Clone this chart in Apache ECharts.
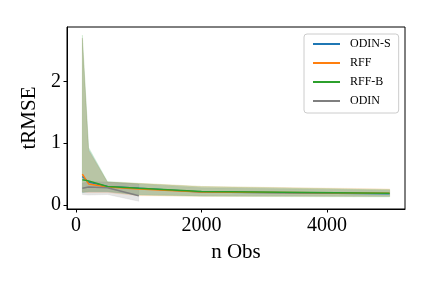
<!DOCTYPE html>
<html><head><meta charset="utf-8">
<script src="https://cdn.jsdelivr.net/npm/echarts@6/dist/echarts.min.js"></script>
<style>html,body{margin:0;padding:0;background:#fff}#c{width:432px;height:288px}</style>
</head><body><div id="c"></div>
<script>
const xObs = [100, 200, 500, 1000, 2000, 5000];
const xOdin = [100, 200, 500, 1000];
const odinSMean = [0.46, 0.37, 0.30, 0.27, 0.21, 0.18];
const odinSLow  = [0.20, 0.21, 0.21, 0.17, 0.15, 0.14];
const odinSHigh = [2.70, 0.90, 0.37, 0.34, 0.28, 0.24];
const rffMean = [0.50, 0.34, 0.29, 0.26, 0.21, 0.19];
const rffLow  = [0.21, 0.20, 0.20, 0.15, 0.14, 0.14];
const rffHigh = [2.70, 0.88, 0.37, 0.35, 0.30, 0.26];
const rffBMean = [0.41, 0.39, 0.30, 0.27, 0.22, 0.19];
const rffBLow  = [0.20, 0.22, 0.22, 0.16, 0.14, 0.13];
const rffBHigh = [2.75, 0.93, 0.38, 0.35, 0.30, 0.25];
const odinMean = [0.27, 0.29, 0.28, 0.15];
const odinLow  = [0.17, 0.16, 0.17, 0.06];
const odinHigh = [0.35, 0.38, 0.37, 0.34];
const xTicks = [0, 2000, 4000];
const yTicks = [0, 1, 2];

const FONT = '"Liberation Serif", "DejaVu Serif", serif';
const series = [];
function band(name, xs, lo, hi, color, op) {
  const data = xs.map((x, i) => [x, lo[i], hi[i]]);
  series.push({
    type: 'custom', name: name + '_band', silent: true, z: 1,
    data: data,
    encode: { x: 0, y: [1, 2] },
    renderItem: function (params, api) {
      if (params.dataIndex !== 0) return null;
      const top = [], bot = [];
      for (let i = 0; i < data.length; i++) {
        top.push(api.coord([data[i][0], data[i][2]]));
        bot.push(api.coord([data[i][0], data[i][1]]));
      }
      const pts = top.concat(bot.reverse());
      return { type: 'polygon', shape: { points: pts },
        style: { fill: color, opacity: op, stroke: color, lineWidth: 0.5 } };
    }
  });
}
function line(name, xs, ys, color) {
  series.push({
    type: 'line', name: name, z: 5, symbol: 'none', color: color,
    lineStyle: { color: color, width: 1.5 },
    data: xs.map((x, i) => [x, ys[i]])
  });
}
band('ODIN-S', xObs, odinSLow, odinSHigh, '#1f77b4', 0.2);
band('RFF', xObs, rffLow, rffHigh, '#ff7f0e', 0.2);
band('RFF-B', xObs, rffBLow, rffBHigh, '#2ca02c', 0.2);
band('ODIN', xOdin, odinLow, odinHigh, '#7f7f7f', 0.2);
line('ODIN-S', xObs, odinSMean, '#1f77b4');
line('RFF', xObs, rffMean, '#ff7f0e');
line('RFF-B', xObs, rffBMean, '#2ca02c');
line('ODIN', xOdin, odinMean, '#7f7f7f');

const chart = echarts.init(document.getElementById('c'), null, { renderer: 'canvas' });
chart.setOption({
  animation: false,
  backgroundColor: '#fff',
  grid: { left: 67, right: 27, top: 27, bottom: 79, show: true, borderColor: '#000', borderWidth: 1 },
  xAxis: {
    type: 'value', min: -145, max: 5245,
    name: 'n Obs', nameLocation: 'middle', nameGap: 33,
    nameTextStyle: { fontFamily: FONT, fontSize: 21, color: '#000' },
    axisLine: { show: true, onZero: false, lineStyle: { color: '#000', width: 1 } },
    axisTick: { show: true, length: 3.5, lineStyle: { color: '#000' }, customValues: xTicks },
    axisLabel: { fontFamily: FONT, fontSize: 20, color: '#000', margin: 7, customValues: xTicks,
      formatter: v => String(v) },
    splitLine: { show: false }
  },
  yAxis: {
    type: 'value', min: -0.065, max: 2.88,
    name: 'tRMSE', nameLocation: 'middle', nameGap: 19, nameRotate: 90,
    nameTextStyle: { fontFamily: FONT, fontSize: 21, color: '#000' },
    axisLine: { show: true, onZero: false, lineStyle: { color: '#000', width: 1 } },
    axisTick: { show: true, length: 3.5, lineStyle: { color: '#000' }, customValues: yTicks },
    axisLabel: { fontFamily: FONT, fontSize: 20, color: '#000', margin: 6, customValues: yTicks },
    splitLine: { show: false }
  },
  legend: {
    data: ['ODIN-S', 'RFF', 'RFF-B', 'ODIN'],
    orient: 'vertical', left: 304, top: 34,
    icon: 'rect', itemWidth: 27, itemHeight: 2, itemGap: 7,
    padding: [4, 8, 6, 9],
    backgroundColor: '#fff', borderColor: '#ccc', borderWidth: 1, borderRadius: 3,
    textStyle: { fontFamily: FONT, fontSize: 12, color: '#000', padding: [0, 0, 0, 5] }
  },
  series: series
});
</script></body></html>
